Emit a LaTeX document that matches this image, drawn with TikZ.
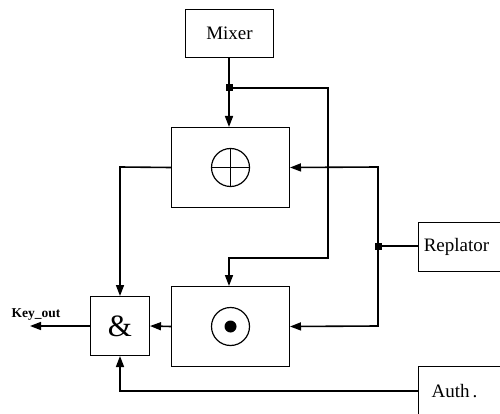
\documentclass[tikz,border=0pt]{standalone}
\usepackage{fontspec}
\setmainfont{Liberation Serif}
\usetikzlibrary{arrows.meta,calc}
\begin{document}
\begin{tikzpicture}[x=1pt,y=-1pt,
  blk/.style={draw,line width=1pt,inner sep=0pt,anchor=north west},
  conn/.style={line width=1.6pt},
  arr/.style={conn,-{Triangle[length=11pt,width=8pt]}},
  jn/.style={fill,minimum size=7pt,inner sep=0pt,draw=none}]
\useasboundingbox (0,0) rectangle (500,414);
% boxes
\node[blk,minimum width=88pt,minimum height=48pt,font=\fontsize{19}{22}\selectfont] (mix) at (185,9) {Mixer};
\node[blk,minimum width=118pt,minimum height=80pt] (xor) at (171,127) {};
\node[blk,minimum width=118pt,minimum height=80pt] (dot) at (171,286) {};
\node[blk,minimum width=59pt,minimum height=59pt,font=\fontsize{31}{34}\selectfont] (and) at (90,296) {\&};
\node[blk,minimum width=90pt,minimum height=49pt,font=\fontsize{19}{22}\selectfont] (rep) at (418,222) {\hspace*{-14pt}Replator};
\node[blk,minimum width=90pt,minimum height=50pt,font=\fontsize{19}{22}\selectfont] (auth) at (418,366) {\hspace*{-18pt}Auth\,.};
% symbols
\draw[line width=1.2pt] (xor.center) circle (19pt);
\draw[line width=1.2pt] ($(xor.center)+(0,-19)$) -- ($(xor.center)+(0,19)$);
\draw[line width=1.2pt] ($(xor.center)+(-19,0)$) -- ($(xor.center)+(19,0)$);
\draw[line width=1.2pt] (dot.center) circle (19pt);
\fill (dot.center) circle (6pt);
% junctions
\coordinate (j1) at (229,88);
\coordinate (j2) at (378,246);
\coordinate (ko) at (30,326);
\node[font=\bfseries\fontsize{13.5}{15}\selectfont] (kol) at (36,315) {Key\_out};
% connectors
\draw[conn] (mix.south -| j1) -- (j1);
\draw[arr] (j1) -- (j1 |- xor.north);
\draw[arr] (j1) -- (328,88) -- (328,258) -- (229,258) -- (229,286);
\draw[conn] (rep.west |- j2) -- (j2);
\draw[arr] (j2) -- (378,167) -- (xor.east);
\draw[arr] (j2) -- (378,326) -- (dot.east);
\draw[arr] (xor.west) -- (120,167) -- (and.north);
\draw[arr] (dot.west) -- (and.east);
\draw[arr] (and.west) -- (ko);
\draw[arr] (auth.west |- 0,391) -- (120,391) -- (and.south);
\node[jn] (jn1) at (j1) {};
\node[jn] (jn2) at (j2) {};
\end{tikzpicture}
\end{document}
